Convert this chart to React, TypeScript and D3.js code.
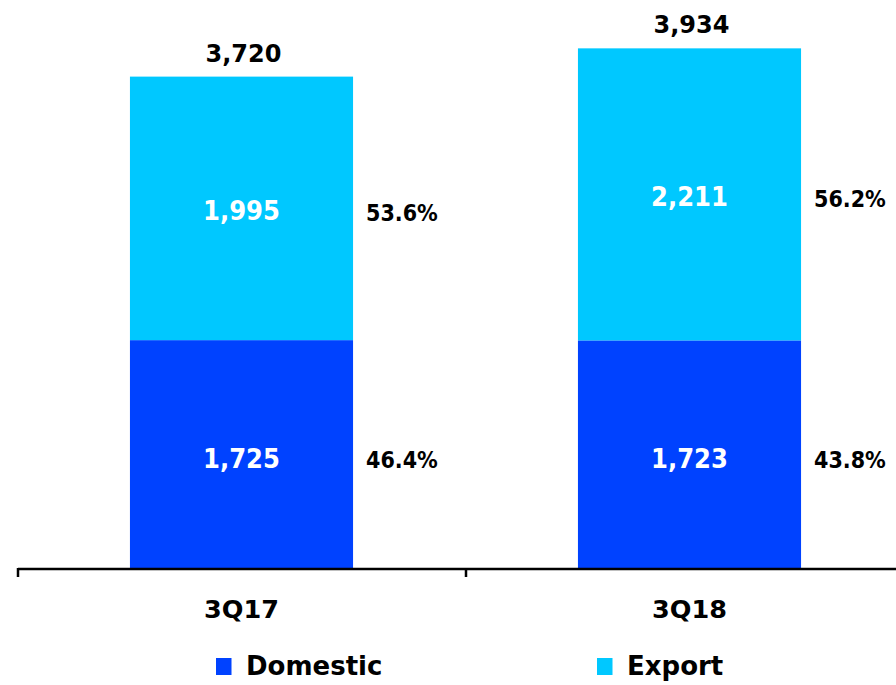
import React from "react";
import * as d3 from "d3";

const categories = ["3Q17", "3Q18"];
const domestic = [1725, 1723];
const exportVals = [1995, 2211];
const seriesNames = ["Domestic", "Export"];
const colors = ["#0042FF", "#00C8FF"];

const W = 896;
const H = 685;
const FONT = "'DejaVu Sans', sans-serif";
const COND = "'DejaVu Sans Condensed', 'DejaVu Sans', sans-serif";

export default function App() {
  const x = d3.scaleBand<string>().domain(categories).range([18, 914]).paddingInner(0).paddingOuter(0);
  const y = d3.scaleLinear().domain([0, 4300]).range([568, 0]);
  const bw = x.bandwidth() * 0.498;
  const fmt = d3.format(",");

  return (
    <svg width={W} height={H} style={{ position: "absolute", left: 0, top: 0, background: "#fff" }} fontFamily={FONT}>
      {categories.map((c, i) => {
        const cx = (x(c) as number) + x.bandwidth() / 2 - 0.5;
        const x0 = cx - bw / 2;
        const total = domestic[i] + exportVals[i];
        const yD = y(domestic[i]);
        const yT = y(total);
        return (
          <g key={c}>
            <rect x={x0} y={yD} width={bw} height={y(0) - yD} fill={colors[0]} />
            <rect x={x0} y={yT} width={bw} height={yD - yT} fill={colors[1]} />
            <text x={cx} y={(yD + y(0)) / 2 + 4} dy="0.36em" textAnchor="middle" fill="#fff" fontWeight="bold" fontSize={27} fontFamily={COND} fontStretch="condensed">
              {fmt(domestic[i])}
            </text>
            <text x={cx} y={(yT + yD) / 2 + 2} dy="0.36em" textAnchor="middle" fill="#fff" fontWeight="bold" fontSize={27} fontFamily={COND} fontStretch="condensed">
              {fmt(exportVals[i])}
            </text>
            <text x={cx + 2} y={yT - 15} textAnchor="middle" fill="#000" fontWeight="bold" fontSize={24}>
              {fmt(total)}
            </text>
            <text x={x0 + bw + 13} y={(yD + y(0)) / 2 + 6} dy="0.36em" fill="#000" fontWeight="bold" fontSize={23} fontFamily={COND} fontStretch="condensed">
              {((domestic[i] / total) * 100).toFixed(1) + "%"}
            </text>
            <text x={x0 + bw + 13} y={(yT + yD) / 2 + 4.5} dy="0.36em" fill="#000" fontWeight="bold" fontSize={23} fontFamily={COND} fontStretch="condensed">
              {((exportVals[i] / total) * 100).toFixed(1) + "%"}
            </text>
            <text x={cx} y={609} dy="0.36em" textAnchor="middle" fill="#000" fontWeight="bold" fontSize={25.5}>
              {c}
            </text>
          </g>
        );
      })}
      <line x1={18} x2={W} y1={y(0) + 1} y2={y(0) + 1} stroke="#000" strokeWidth={2.5} />
      {[...categories.map((c) => x(c) as number), 914].map((t, i) => (
        <line key={i} x1={t} x2={t} y1={y(0)} y2={y(0) + 9} stroke="#000" strokeWidth={2.5} />
      ))}
      {seriesNames.map((s, i) => {
        const lx = [216, 597][i];
        return (
          <g key={s}>
            <rect x={lx} y={658} width={15.5} height={17} fill={colors[i]} />
            <text x={lx + 30} y={675} fill="#000" fontWeight="bold" fontSize={26}>
              {s}
            </text>
          </g>
        );
      })}
    </svg>
  );
}
